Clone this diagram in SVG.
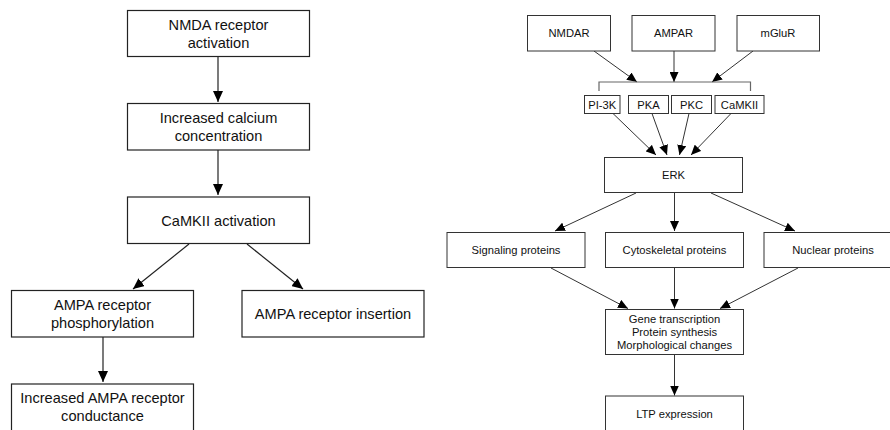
<svg xmlns="http://www.w3.org/2000/svg" width="890" height="430" viewBox="0 0 890 430">
<style>
.box{fill:#fff;stroke:#222;stroke-width:1.2}
.sbox{fill:#fff;stroke:#333;stroke-width:1}
.t{font-family:"Liberation Sans",Arial,sans-serif;font-size:14.6px;fill:#111;text-anchor:middle}
.s{font-family:"Liberation Sans",Arial,sans-serif;font-size:11.2px;fill:#111;text-anchor:middle}
.c{stroke:#222;stroke-width:1.2;fill:none;marker-end:url(#ah)}
.cs{stroke:#333;stroke-width:1;fill:none;marker-end:url(#ah2)}
.br{stroke:#666;stroke-width:1.2;fill:none}
</style>
<defs>
<marker id="ah" markerUnits="userSpaceOnUse" markerWidth="12" markerHeight="10" refX="11" refY="5" orient="auto">
<path d="M0,0 L11,5 L0,10 Z" fill="#000"/>
</marker>
<marker id="ah2" markerUnits="userSpaceOnUse" markerWidth="11" markerHeight="9" refX="10" refY="4.5" orient="auto">
<path d="M0,0 L10,4.5 L0,9 Z" fill="#000"/>
</marker>
</defs>
<g id="connectors">
<line class="c" x1="218" y1="57" x2="218" y2="102"/>
<line class="c" x1="218" y1="150" x2="218" y2="195"/>
<line class="c" x1="189" y1="244" x2="133" y2="289"/>
<line class="c" x1="247" y1="244" x2="303" y2="289"/>
<line class="c" x1="103" y1="337" x2="103" y2="382"/>
<line class="cs" x1="594" y1="51" x2="637" y2="82"/>
<line class="cs" x1="674" y1="51" x2="674" y2="82"/>
<line class="cs" x1="753" y1="51" x2="712" y2="82"/>
<path class="br" d="M599,91 V82 H750.5 V91"/>
<line class="cs" x1="613" y1="113.5" x2="656" y2="155"/>
<line class="cs" x1="652" y1="113.5" x2="667" y2="155"/>
<line class="cs" x1="689" y1="113.5" x2="679.5" y2="155"/>
<line class="cs" x1="731" y1="113.5" x2="691" y2="155"/>
<line class="cs" x1="636" y1="193" x2="555" y2="231"/>
<line class="cs" x1="674.5" y1="193" x2="674.5" y2="231"/>
<line class="cs" x1="711" y1="193" x2="795" y2="231"/>
<line class="cs" x1="551" y1="268" x2="628" y2="308.5"/>
<line class="cs" x1="674.5" y1="268" x2="674.5" y2="308.5"/>
<line class="cs" x1="798" y1="268" x2="720" y2="308.5"/>
<line class="cs" x1="674.5" y1="354.5" x2="674.5" y2="395.5"/>
</g>
<g id="n_nmda">
<rect class="box" x="127.5" y="10.5" width="182" height="46"/>
<text class="t" x="218.5" y="30">NMDA receptor</text>
<text class="t" x="218.5" y="47.5">activation</text>
</g>
<g id="n_calcium">
<rect class="box" x="127.5" y="103.5" width="182" height="46.5"/>
<text class="t" x="218.5" y="123">Increased calcium</text>
<text class="t" x="218.5" y="140.5">concentration</text>
</g>
<g id="n_camkii">
<rect class="box" x="127.5" y="197" width="182" height="46.5"/>
<text class="t" x="218.5" y="225.5">CaMKII activation</text>
</g>
<g id="n_phos">
<rect class="box" x="11.5" y="290.5" width="182" height="46.5"/>
<text class="t" x="102.5" y="310">AMPA receptor</text>
<text class="t" x="102.5" y="327.5">phosphorylation</text>
</g>
<g id="n_insert">
<rect class="box" x="242" y="290.5" width="182" height="46.5"/>
<text class="t" x="333" y="319">AMPA receptor insertion</text>
</g>
<g id="n_conduct">
<rect class="box" x="11.5" y="384" width="182" height="48"/>
<text class="t" x="102.5" y="403">Increased AMPA receptor</text>
<text class="t" x="102.5" y="420.5">conductance</text>
</g>
<g id="n_nmdar">
<rect class="sbox" x="527.5" y="15.5" width="83" height="35.5"/>
<text class="s" x="569" y="37">NMDAR</text>
</g>
<g id="n_ampar">
<rect class="sbox" x="632" y="15.5" width="83" height="35.5"/>
<text class="s" x="673.5" y="37">AMPAR</text>
</g>
<g id="n_mglur">
<rect class="sbox" x="737" y="15.5" width="82.5" height="35.5"/>
<text class="s" x="778" y="37">mGluR</text>
</g>
<g id="n_pi3k">
<rect class="sbox" x="584.5" y="95.5" width="35.5" height="18"/>
<text class="s" x="602.3" y="108.5">PI-3K</text>
</g>
<g id="n_pka">
<rect class="sbox" x="628.5" y="95.5" width="40" height="18"/>
<text class="s" x="648.5" y="108.5">PKA</text>
</g>
<g id="n_pkc">
<rect class="sbox" x="671.5" y="95.5" width="40" height="18"/>
<text class="s" x="691.5" y="108.5">PKC</text>
</g>
<g id="n_camkii2">
<rect class="sbox" x="715" y="95.5" width="49" height="18"/>
<text class="s" x="739.5" y="108.5">CaMKII</text>
</g>
<g id="n_erk">
<rect class="sbox" x="604.5" y="157.5" width="138" height="35"/>
<text class="s" x="673.5" y="179">ERK</text>
</g>
<g id="n_signal">
<rect class="sbox" x="447" y="232.5" width="138" height="35"/>
<text class="s" x="516" y="254">Signaling proteins</text>
</g>
<g id="n_cyto">
<rect class="sbox" x="605.5" y="232.5" width="138" height="35"/>
<text class="s" x="674.5" y="254">Cytoskeletal proteins</text>
</g>
<g id="n_nuclear">
<rect class="sbox" x="764" y="232.5" width="138" height="35"/>
<text class="s" x="833" y="254">Nuclear proteins</text>
</g>
<g id="n_gene">
<rect class="sbox" x="605.5" y="309.5" width="138" height="45"/>
<text class="s" x="674.5" y="323">Gene transcription</text>
<text class="s" x="674.5" y="336.3">Protein synthesis</text>
<text class="s" x="674.5" y="349">Morphological changes</text>
</g>
<g id="n_ltp">
<rect class="sbox" x="605.5" y="396" width="138" height="36"/>
<text class="s" x="674.5" y="417.5">LTP expression</text>
</g>
</svg>
